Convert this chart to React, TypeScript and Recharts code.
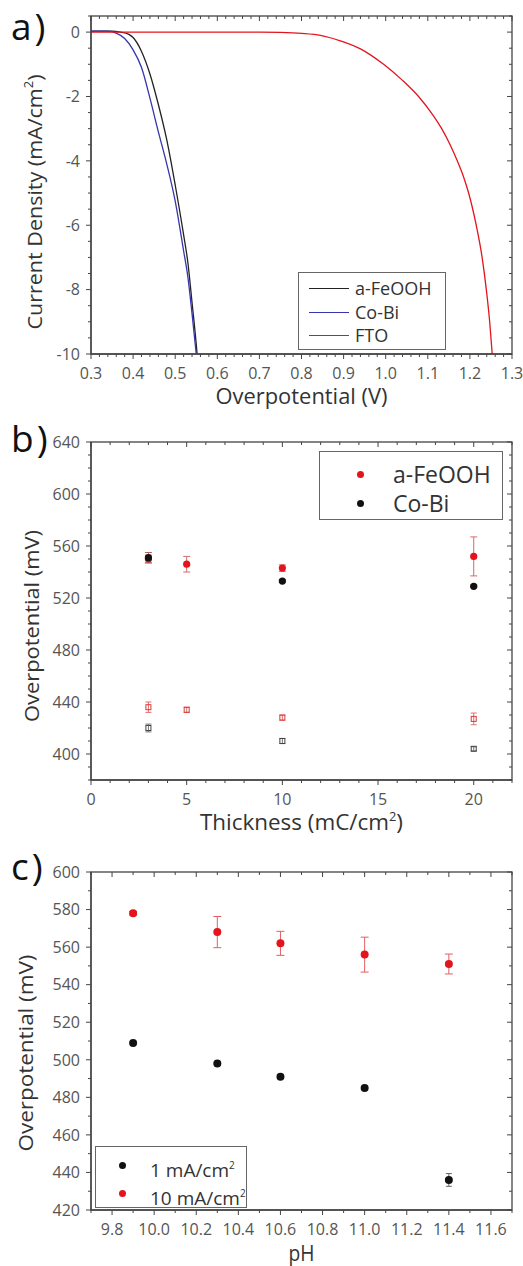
import React from 'react';
import { ComposedChart, Line, Scatter, XAxis, YAxis, ErrorBar, Label } from 'recharts';

const FONT = "'Open Sans', 'DejaVu Sans', sans-serif";
const TXT = '#333';
const AX = '#444';
const RED = '#e3141c';
const BLUE = '#3535ad';
const BLACK = '#222';

// plot box shared by the three panels (px)
const PL = 91;
const PW = 421;
const PH = 338;

// a) LSV curves: overpotential (V) vs current density (mA/cm2)
const feoohV = [0.30, 0.35, 0.37, 0.39, 0.40, 0.42, 0.44, 0.46, 0.48, 0.50, 0.52, 0.53, 0.54, 0.55, 0.552];
const feoohJ = [0.03, 0.03, 0.0, -0.07, -0.17, -0.6, -1.3, -2.25, -3.35, -4.75, -6.3, -7.15, -8.4, -9.7, -10.0];
const cobiV = [0.30, 0.34, 0.36, 0.38, 0.40, 0.42, 0.44, 0.46, 0.48, 0.50, 0.52, 0.53, 0.54, 0.55];
const cobiJ = [0.03, 0.03, -0.03, -0.2, -0.55, -1.1, -2.05, -3.1, -4.1, -5.25, -6.8, -7.6, -8.75, -10.0];
const ftoV = [0.30, 0.70, 0.75, 0.80, 0.845, 0.892, 0.94, 0.995, 1.040, 1.078, 1.108, 1.133, 1.153, 1.170, 1.185, 1.197, 1.215, 1.229, 1.239, 1.247, 1.253];
const ftoJ = [0, 0, -0.01, -0.04, -0.1, -0.27, -0.52, -1.0, -1.5, -2.0, -2.5, -3.0, -3.5, -4.0, -4.5, -5.0, -6.0, -7.0, -8.0, -9.0, -10.0];

// b) overpotential vs film thickness (filled = 10 mA/cm2, open = 1 mA/cm2)
const feoohThick = [3, 5, 10, 20];
const feoohHigh = [550, 546, 543, 552];
const feoohHighErr = [3, 6, 2.5, 15];
const feoohLow = [436, 434, 428, 427];
const feoohLowErr = [4, 2, 2, 4.5];
const cobiThick = [3, 10, 20];
const cobiHigh = [551, 533, 529];
const cobiHighErr = [4, 1, 1];
const cobiLow = [420, 410, 404];
const cobiLowErr = [3, 2, 1.5];

// c) overpotential vs pH
const phValues = [9.9, 10.3, 10.6, 11.0, 11.4];
const eta1 = [509, 498, 491, 485, 436];
const eta1Err = [1, 1, 1, 1, 3.4];
const eta10 = [578, 568, 562, 556, 551];
const eta10Err = [1, 8.3, 6.4, 9.3, 5.3];

// tick labels
const aXMajor = [0.3, 0.4, 0.5, 0.6, 0.7, 0.8, 0.9, 1.0, 1.1, 1.2, 1.3];
const aYMajor = [0, -2, -4, -6, -8, -10];
const bXMajor = [0, 5, 10, 15, 20];
const bYMajor = [400, 440, 480, 520, 560, 600, 640];
const cXMajor = [9.8, 10.0, 10.2, 10.4, 10.6, 10.8, 11.0, 11.2, 11.4, 11.6];
const cYMajor = [420, 440, 460, 480, 500, 520, 540, 560, 580, 600];

type Pt = { x: number; y: number; e: number };
const zip = (xs: number[], ys: number[], es?: number[]): Pt[] =>
  xs.map((x, i) => ({ x, y: ys[i], e: es ? es[i] : 0 }));

const range = (lo: number, hi: number, step: number) => {
  const out: number[] = [];
  const n = Math.round((hi - lo) / step);
  for (let i = 0; i <= n; i++) out.push(+(lo + i * step).toFixed(6));
  return out;
};

const isMajor = (majors: number[], v: number) => majors.some((m) => Math.abs(m - v) < 1e-6);

// outward ticks on bottom/left
const makeTick = (side: 'bottom' | 'left', majors: number[], fmt: (v: number) => string) => (p: any) => {
  const v = p.payload.value;
  const major = isMajor(majors, v);
  const len = major ? 5 : 3;
  const x = p.x;
  const y = p.y;
  if (side === 'bottom') {
    return (
      <g>
        <line x1={x} x2={x} y1={y} y2={y + len} stroke={AX} strokeWidth={1} />
        {major && (
          <text x={x} y={y + 25} textAnchor="middle" fontSize={16} fill="#555" fontFamily={FONT}>
            {fmt(v)}
          </text>
        )}
      </g>
    );
  }
  return (
    <g>
      <line x1={x - len} x2={x} y1={y} y2={y} stroke={AX} strokeWidth={1} />
      {major && (
        <text x={x - 11} y={y} dy="0.36em" textAnchor="end" fontSize={16} fill="#555" fontFamily={FONT}>
          {fmt(v)}
        </text>
      )}
    </g>
  );
};

const xTitle = (content: React.ReactNode, dy: number, len: number) => (props: any) => {
  const vb = props.viewBox;
  return (
    <text
      x={vb.x + vb.width / 2}
      y={vb.y + dy}
      textAnchor="middle"
      fontSize={21}
      fill={TXT}
      fontFamily={FONT}
      textLength={len}
      lengthAdjust="spacingAndGlyphs"
    >
      {content}
    </text>
  );
};

const yTitle = (content: React.ReactNode, xBase: number, cy: number, len: number) => () => (
  <text
    x={xBase}
    y={cy}
    transform={`rotate(-90 ${xBase} ${cy})`}
    textAnchor="middle"
    fontSize={20}
    fill={TXT}
    fontFamily={FONT}
    textLength={len}
    lengthAdjust="spacingAndGlyphs"
  >
    {content}
  </text>
);

const sq = (
  <>
    <tspan dy={-9} fontSize={12}>2</tspan>
    <tspan dy={9}>)</tspan>
  </>
);

const fix1 = (v: number) => v.toFixed(1);
const int = (v: number) => String(Math.round(v));

type Frame = {
  top: number;
  xDomain: [number, number];
  yDomain: [number, number];
  xTicks: number[];
  yTicks: number[];
  xMajor: number[];
  yMajor: number[];
  xFmt: (v: number) => string;
  yFmt: (v: number) => string;
  bottomH: number;
  xLabel: (p: any) => React.ReactNode;
  yLabel: (p: any) => React.ReactNode;
};

const frameAxes = (f: Frame) => [
  <XAxis
    key="xb"
    xAxisId="b"
    type="number"
    dataKey="x"
    orientation="bottom"
    domain={f.xDomain}
    ticks={f.xTicks}
    interval={0}
    allowDataOverflow
    height={f.bottomH}
    tickSize={0}
    tickMargin={0}
    tickLine={false}
    axisLine={{ stroke: AX, strokeWidth: 1.3 }}
    tick={makeTick('bottom', f.xMajor, f.xFmt)}
  >
    <Label content={f.xLabel} />
  </XAxis>,
  <YAxis
    key="yl"
    yAxisId="l"
    type="number"
    dataKey="y"
    orientation="left"
    domain={f.yDomain}
    ticks={f.yTicks}
    interval={0}
    allowDataOverflow
    width={PL}
    tickSize={0}
    tickMargin={0}
    tickLine={false}
    axisLine={{ stroke: AX, strokeWidth: 1.3 }}
    tick={makeTick('left', f.yMajor, f.yFmt)}
  >
    <Label content={f.yLabel} />
  </YAxis>,
];

// mirrored top / right frame with inward ticks (Origin box style)
const MirrorFrame = ({ f, offset }: { f: Frame; offset: number }) => {
  const t = offset + f.top;
  const r = PL + PW;
  const sx = (v: number) => PL + ((v - f.xDomain[0]) / (f.xDomain[1] - f.xDomain[0])) * PW;
  const sy = (v: number) => t + ((f.yDomain[1] - v) / (f.yDomain[1] - f.yDomain[0])) * PH;
  return (
    <g>
      <rect x={PL} y={t} width={PW} height={PH} fill="none" stroke={AX} strokeWidth={1.3} />
      {f.xTicks.map((v) => (
        <line key={'x' + v} x1={sx(v)} x2={sx(v)} y1={t} y2={t + (isMajor(f.xMajor, v) ? 5 : 3)} stroke={AX} strokeWidth={1} />
      ))}
      {f.yTicks.map((v) => (
        <line key={'y' + v} x1={r - (isMajor(f.yMajor, v) ? 5 : 3)} x2={r} y1={sy(v)} y2={sy(v)} stroke={AX} strokeWidth={1} />
      ))}
    </g>
  );
};

const dot = (fill: string, r: number) => (p: any) => <circle cx={p.cx} cy={p.cy} r={r} fill={fill} />;
const openSq = (stroke: string) => (p: any) => (
  <rect x={p.cx - 2.5} y={p.cy - 2.5} width={5} height={5} fill="none" stroke={stroke} strokeWidth={1} />
);

const legendBox: React.CSSProperties = {
  position: 'absolute',
  border: '1px solid #666',
  background: '#fff',
  fontFamily: FONT,
  color: TXT,
};

const App: React.FC = () => {
  const frameA: Frame = {
    top: 16,
    xDomain: [0.3, 1.3],
    yDomain: [-10, 0.5],
    xTicks: range(0.3, 1.3, 0.02),
    yTicks: range(-10, 0.5, 0.5),
    xMajor: aXMajor,
    yMajor: aYMajor,
    xFmt: fix1,
    yFmt: int,
    bottomH: 66,
    xLabel: xTitle('Overpotential (V)', 50, 172),
    yLabel: yTitle(<>Current Density (mA/cm{sq}</>, 42, 202, 255),
  };
  const frameB: Frame = {
    top: 22,
    xDomain: [0, 22],
    yDomain: [380, 640],
    xTicks: range(0, 22, 1),
    yTicks: range(380, 640, 10),
    xMajor: bXMajor,
    yMajor: bYMajor,
    xFmt: int,
    yFmt: int,
    bottomH: 60,
    xLabel: xTitle(<>Thickness (mC/cm{sq}</>, 50, 203),
    yLabel: yTitle('Overpotential (mV)', 39, 206, 192),
  };
  const frameC: Frame = {
    top: 32,
    xDomain: [9.7, 11.7],
    yDomain: [420, 600],
    xTicks: range(9.7, 11.7, 0.1),
    yTicks: range(420, 600, 10),
    xMajor: cXMajor,
    yMajor: cYMajor,
    xFmt: fix1,
    yFmt: int,
    bottomH: 56,
    xLabel: xTitle('pH', 51, 26),
    yLabel: yTitle('Overpotential (mV)', 33, 213, 197),
  };

  const ids = { xAxisId: 'b', yAxisId: 'l' };
  const mg = (f: Frame) => ({ top: f.top, right: 523 - PL - PW, left: 0, bottom: 0 });

  return (
    <div style={{ position: 'absolute', left: 0, top: 0, width: 523, height: 1266, background: '#fff', fontFamily: FONT }}>
      {/* a) */}
      <div style={{ position: 'absolute', left: 0, top: 0 }}>
        <ComposedChart width={523} height={420} margin={mg(frameA)}>
          {frameAxes(frameA)}
          <Line {...ids} data={zip(feoohV, feoohJ)} dataKey="y" type="monotone" stroke={BLACK} strokeWidth={1.3} dot={false} isAnimationActive={false} />
          <Line {...ids} data={zip(cobiV, cobiJ)} dataKey="y" type="monotone" stroke={BLUE} strokeWidth={1.3} dot={false} isAnimationActive={false} />
          <Line {...ids} data={zip(ftoV, ftoJ)} dataKey="y" type="monotone" stroke={RED} strokeWidth={1.3} dot={false} isAnimationActive={false} />
        </ComposedChart>
        <div style={{ ...legendBox, left: 298, top: 272, width: 146, height: 76 }}>
          {[
            { name: 'a-FeOOH', c: BLACK, t: 15 },
            { name: 'Co-Bi', c: BLUE, t: 39 },
            { name: 'FTO', c: RED, t: 62 },
          ].map((r) => (
            <div key={r.name}>
              <div style={{ position: 'absolute', left: 10, top: r.t, width: 40, height: 1.4, background: r.c }} />
              <div style={{ position: 'absolute', left: 56, top: r.t - 12, fontSize: 18, lineHeight: '24px' }}>{r.name}</div>
            </div>
          ))}
        </div>
      </div>

      {/* b) */}
      <div style={{ position: 'absolute', left: 0, top: 420 }}>
        <ComposedChart width={523} height={420} margin={mg(frameB)}>
          {frameAxes(frameB)}
          <Scatter {...ids} data={zip(feoohThick, feoohLow, feoohLowErr)} shape={openSq('#d83a3a')} isAnimationActive={false}>
            <ErrorBar dataKey="e" direction="y" width={3} stroke="#e07070" strokeWidth={1} />
          </Scatter>
          <Scatter {...ids} data={zip(cobiThick, cobiLow, cobiLowErr)} shape={openSq('#444')} isAnimationActive={false}>
            <ErrorBar dataKey="e" direction="y" width={3} stroke="#777" strokeWidth={1} />
          </Scatter>
          <Scatter {...ids} data={zip(feoohThick, feoohHigh, feoohHighErr)} shape={dot(RED, 3.6)} isAnimationActive={false}>
            <ErrorBar dataKey="e" direction="y" width={3.5} stroke="#d86a6a" strokeWidth={1} />
          </Scatter>
          <Scatter {...ids} data={zip(cobiThick, cobiHigh, cobiHighErr)} shape={dot('#111', 3.6)} isAnimationActive={false}>
            <ErrorBar dataKey="e" direction="y" width={3.5} stroke="#b06060" strokeWidth={1} />
          </Scatter>
        </ComposedChart>
        <div style={{ ...legendBox, left: 319, top: 31, width: 182, height: 67 }}>
          {[
            { name: 'a-FeOOH', c: RED, t: 22 },
            { name: 'Co-Bi', c: '#111', t: 51 },
          ].map((r) => (
            <div key={r.name}>
              <div style={{ position: 'absolute', left: 37, top: r.t - 3.5, width: 7, height: 7, borderRadius: '50%', background: r.c }} />
              <div style={{ position: 'absolute', left: 73, top: r.t - 15, fontSize: 23, lineHeight: '30px' }}>{r.name}</div>
            </div>
          ))}
        </div>
      </div>

      {/* c) */}
      <div style={{ position: 'absolute', left: 0, top: 840 }}>
        <ComposedChart width={523} height={426} margin={mg(frameC)}>
          {frameAxes(frameC)}
          <Scatter {...ids} data={zip(phValues, eta1, eta1Err)} shape={dot('#111', 4)} isAnimationActive={false}>
            <ErrorBar dataKey="e" direction="y" width={3} stroke="#666" strokeWidth={1} />
          </Scatter>
          <Scatter {...ids} data={zip(phValues, eta10, eta10Err)} shape={dot(RED, 4)} isAnimationActive={false}>
            <ErrorBar dataKey="e" direction="y" width={4} stroke="#e06060" strokeWidth={1} />
          </Scatter>
        </ComposedChart>
        <div style={{ ...legendBox, left: 95, top: 306, width: 150, height: 60 }}>
          {[
            { name: '1 mA/cm', c: '#111', t: 18 },
            { name: '10 mA/cm', c: RED, t: 46 },
          ].map((r) => (
            <div key={r.name}>
              <div style={{ position: 'absolute', left: 23, top: r.t - 3.5, width: 7, height: 7, borderRadius: '50%', background: r.c }} />
              <div style={{ position: 'absolute', left: 54, top: r.t - 13, fontSize: 19, lineHeight: '26px', whiteSpace: 'nowrap' }}>
                {r.name}
                <sup style={{ fontSize: 10, verticalAlign: 8 }}>2</sup>
              </div>
            </div>
          ))}
        </div>
      </div>

      <svg width={523} height={1266} style={{ position: 'absolute', left: 0, top: 0, pointerEvents: 'none' }}>
        <MirrorFrame f={frameA} offset={0} />
        <MirrorFrame f={frameB} offset={420} />
        <MirrorFrame f={frameC} offset={840} />
        <text x={11} y={40} fontSize={37} fill="#111" fontFamily={FONT} letterSpacing={3}>a)</text>
        <text x={11} y={452} fontSize={37} fill="#111" fontFamily={FONT} letterSpacing={3}>b)</text>
        <text x={11} y={880} fontSize={37} fill="#111" fontFamily={FONT} letterSpacing={3}>c)</text>
      </svg>
    </div>
  );
};

export default App;
